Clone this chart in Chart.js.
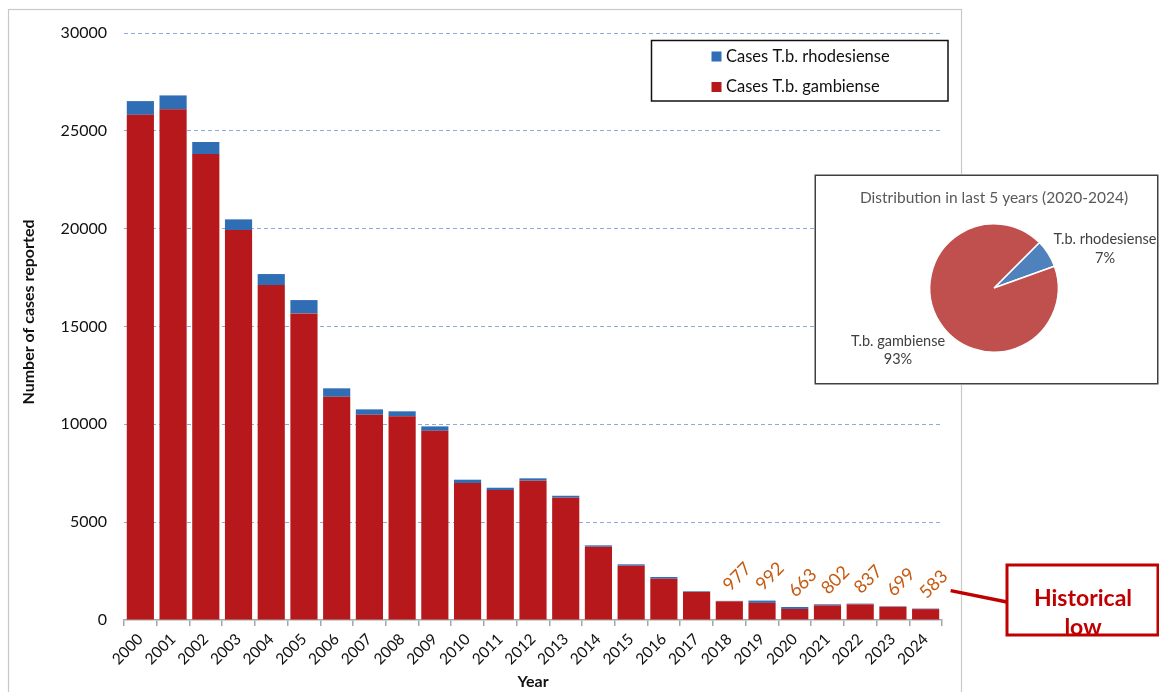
<!DOCTYPE html>
<html>
<head>
<meta charset="utf-8">
<title>Human African trypanosomiasis cases reported, 2000-2024</title>
<script src="https://cdn.jsdelivr.net/npm/chart.js@4.4.1/dist/chart.umd.min.js"></script>
<style>
  html, body { margin: 0; padding: 0; background: #ffffff; }
  #wrap { position: relative; width: 1159px; height: 692px; overflow: hidden; }
  #main { position: absolute; left: 0; top: 0; }
  #pie { position: absolute; left: 814px; top: 174px; }
</style>
</head>
<body>
<div id="wrap">
  <canvas id="main" width="1159" height="692"></canvas>
  <canvas id="pie" width="345" height="211"></canvas>
</div>
<script>
// Reported cases per year, split by parasite form
const years = ['2000','2001','2002','2003','2004','2005','2006','2007','2008','2009',
               '2010','2011','2012','2013','2014','2015','2016','2017','2018','2019',
               '2020','2021','2022','2023','2024'];
const casesGambiense   = [25820, 26100, 23810, 19930, 17120, 15670, 11410, 10490, 10410, 9670,
                          7000, 6640, 7120, 6250, 3745, 2775, 2110, 1430, 953, 876,
                          565, 747, 799, 678, 556];
const casesRhodesiense = [700, 710, 620, 545, 560, 680, 430, 275, 255, 225,
                          170, 120, 120, 100, 70, 70, 87, 35, 24, 116,
                          98, 55, 38, 21, 27];
// Years whose total is written above the bar
const labelledYears = ['2018','2019','2020','2021','2022','2023','2024'];
// Value axis
const yMax = 30000;
const yStep = 5000;
const yTitle = 'Number of cases reported';
// Share of cases in 2020-2024
const pieLabels = ['T.b. rhodesiense', 'T.b. gambiense'];
const pieShares = [7, 93];
const pieTitle = 'Distribution in last 5 years (2020-2024)';
const calloutLines = ['Historical', 'low'];

const FONT = "Lato, 'Open Sans', 'DejaVu Sans', sans-serif";
const RED = '#B7181B';
const BLUE = '#2F6DB5';
const CALLOUT = '#C00000';

// Outer frame of the chart object and the vertical axis title
const framePlugin = {
  id: 'frame',
  beforeDraw(chart) {
    const ctx = chart.ctx;
    ctx.save();
    ctx.fillStyle = '#ffffff';
    ctx.fillRect(0, 0, chart.width, chart.height);
    ctx.strokeStyle = '#C8C8C8';
    ctx.lineWidth = 1.2;
    ctx.strokeRect(8.5, 9.5, 953, 720);
    ctx.translate(29, 312);
    ctx.rotate(-Math.PI / 2);
    ctx.fillStyle = '#111111';
    ctx.font = 'bold 16px ' + FONT;
    ctx.textAlign = 'center';
    ctx.textBaseline = 'middle';
    ctx.fillText(yTitle, 0, 0);
    ctx.restore();
  }
};

// Boxed legend in the upper right of the plot
const boxLegendPlugin = {
  id: 'boxLegend',
  afterDraw(chart) {
    const ctx = chart.ctx;
    ctx.save();
    ctx.strokeStyle = '#111111';
    ctx.lineWidth = 1.5;
    ctx.fillStyle = '#ffffff';
    ctx.fillRect(651.5, 40.5, 296.5, 60.5);
    ctx.strokeRect(651.5, 40.5, 296.5, 60.5);
    ctx.font = '16.5px ' + FONT;
    ctx.textBaseline = 'middle';
    ctx.textAlign = 'left';
    const order = [1, 0];
    order.forEach((di, k) => {
      const ds = chart.data.datasets[di];
      const cy = 56.5 + k * 30.5;
      ctx.fillStyle = ds.backgroundColor;
      ctx.fillRect(711.5, cy - 5, 10, 10);
      ctx.fillStyle = '#111111';
      ctx.fillText(ds.label, 726, cy);
    });
    ctx.restore();
  }
};

// Totals written diagonally above the most recent bars
const totalsPlugin = {
  id: 'totals',
  afterDatasetsDraw(chart) {
    const ctx = chart.ctx;
    const top = chart.getDatasetMeta(1);
    ctx.save();
    ctx.font = '18px ' + FONT;
    ctx.fillStyle = '#C55A11';
    ctx.textAlign = 'left';
    ctx.textBaseline = 'alphabetic';
    years.forEach((yr, i) => {
      if (!labelledYears.includes(yr)) return;
      const el = top.data[i];
      const total = casesGambiense[i] + casesRhodesiense[i];
      ctx.save();
      ctx.translate(el.x + 1, el.y - 9);
      ctx.rotate(-Math.PI / 4);
      ctx.fillText(String(total), 0, 0);
      ctx.restore();
    });
    ctx.restore();
  }
};

// Callout box pointing at the last bar
const calloutPlugin = {
  id: 'callout',
  afterDraw(chart) {
    const ctx = chart.ctx;
    const last = chart.getDatasetMeta(1).data[years.length - 1];
    const bx = 1007, by = 565, bw = 151, bh = 70;
    ctx.save();
    ctx.strokeStyle = CALLOUT;
    ctx.lineWidth = 3.5;
    ctx.beginPath();
    ctx.moveTo(last.x + 25, last.y - 18);
    ctx.lineTo(bx, by + 37);
    ctx.stroke();
    ctx.fillStyle = '#ffffff';
    ctx.fillRect(bx, by, bw, bh);
    ctx.save();
    ctx.beginPath();
    ctx.rect(bx, by, bw, bh);
    ctx.clip();
    ctx.fillStyle = CALLOUT;
    ctx.font = 'bold 23px ' + FONT;
    ctx.textAlign = 'center';
    ctx.textBaseline = 'alphabetic';
    calloutLines.forEach((t, k) => ctx.fillText(t, bx + bw / 2 + 0.5, by + 41 + k * 29));
    ctx.restore();
    ctx.lineWidth = 3;
    ctx.strokeRect(bx, by, bw, bh);
    ctx.restore();
  }
};

new Chart(document.getElementById('main'), {
  type: 'bar',
  data: {
    labels: years,
    datasets: [
      { label: 'Cases T.b. gambiense', data: casesGambiense, backgroundColor: RED },
      { label: 'Cases T.b. rhodesiense', data: casesRhodesiense, backgroundColor: BLUE }
    ]
  },
  options: {
    responsive: false,
    animation: false,
    events: [],
    categoryPercentage: 0.83,
    barPercentage: 1.0,
    layout: { padding: { left: 12, right: 217, top: 33, bottom: 0 } },
    plugins: { legend: { display: false }, tooltip: { enabled: false } },
    scales: {
      x: {
        stacked: true,
        grid: { offset: true, drawOnChartArea: false, drawTicks: true, tickLength: 6, color: '#A6A6A6', lineWidth: 1.5 },
        border: { color: '#A6A6A6', width: 1.5 },
        ticks: { font: { family: FONT, size: 15.5 }, color: '#111111', maxRotation: 45, minRotation: 45, padding: 4 },
        title: { display: true, text: 'Year', color: '#111111', font: { family: FONT, size: 16, weight: 'bold' }, padding: { top: 0, bottom: 1 } },
        afterFit(scale) { scale.height = 72; }
      },
      y: {
        stacked: true,
        min: 0,
        max: yMax,
        ticks: { stepSize: yStep, font: { family: FONT, size: 16 }, color: '#111111', padding: 17, callback: (v) => String(v) },
        grid: {
          drawTicks: false,
          lineWidth: 1,
          color: (c) => (c.tick && c.tick.value === 0 ? 'rgba(0,0,0,0)' : '#8EA9DB')
        },
        border: { display: false, dash: [4, 3] },
        afterFit(scale) { scale.width = 112; }
      }
    }
  },
  plugins: [framePlugin, boxLegendPlugin, totalsPlugin, calloutPlugin]
});

// Inset pie: box, title and slice labels
const pieDecorPlugin = {
  id: 'pieDecor',
  beforeDraw(chart) {
    const ctx = chart.ctx;
    ctx.save();
    ctx.fillStyle = '#ffffff';
    ctx.fillRect(0, 0, chart.width, chart.height);
    ctx.strokeStyle = '#404040';
    ctx.lineWidth = 1.5;
    ctx.strokeRect(1.25, 1.25, chart.width - 2.5, chart.height - 2.5);
    ctx.fillStyle = '#595959';
    ctx.font = '15.5px ' + FONT;
    ctx.textAlign = 'center';
    ctx.textBaseline = 'middle';
    ctx.fillText(pieTitle, 180, 24);
    ctx.restore();
  },
  afterDraw(chart) {
    const ctx = chart.ctx;
    ctx.save();
    ctx.fillStyle = '#404040';
    ctx.font = '14.5px ' + FONT;
    ctx.textAlign = 'center';
    ctx.textBaseline = 'middle';
    const spots = [[291, 65, 84], [84, 167, 185]];
    pieLabels.forEach((lab, i) => {
      ctx.fillText(lab, spots[i][0], spots[i][1]);
      ctx.fillText(pieShares[i] + '%', spots[i][0], spots[i][2]);
    });
    ctx.restore();
  }
};

new Chart(document.getElementById('pie'), {
  type: 'pie',
  data: {
    labels: pieLabels,
    datasets: [{
      data: pieShares,
      backgroundColor: ['#4F81BD', '#C0504D'],
      borderColor: '#ffffff',
      borderWidth: 1.5
    }]
  },
  options: {
    responsive: false,
    animation: false,
    events: [],
    rotation: 45,
    layout: { padding: { left: 115, right: 100, top: 49, bottom: 32 } },
    plugins: { legend: { display: false }, tooltip: { enabled: false } }
  },
  plugins: [pieDecorPlugin]
});
</script>
</body>
</html>
